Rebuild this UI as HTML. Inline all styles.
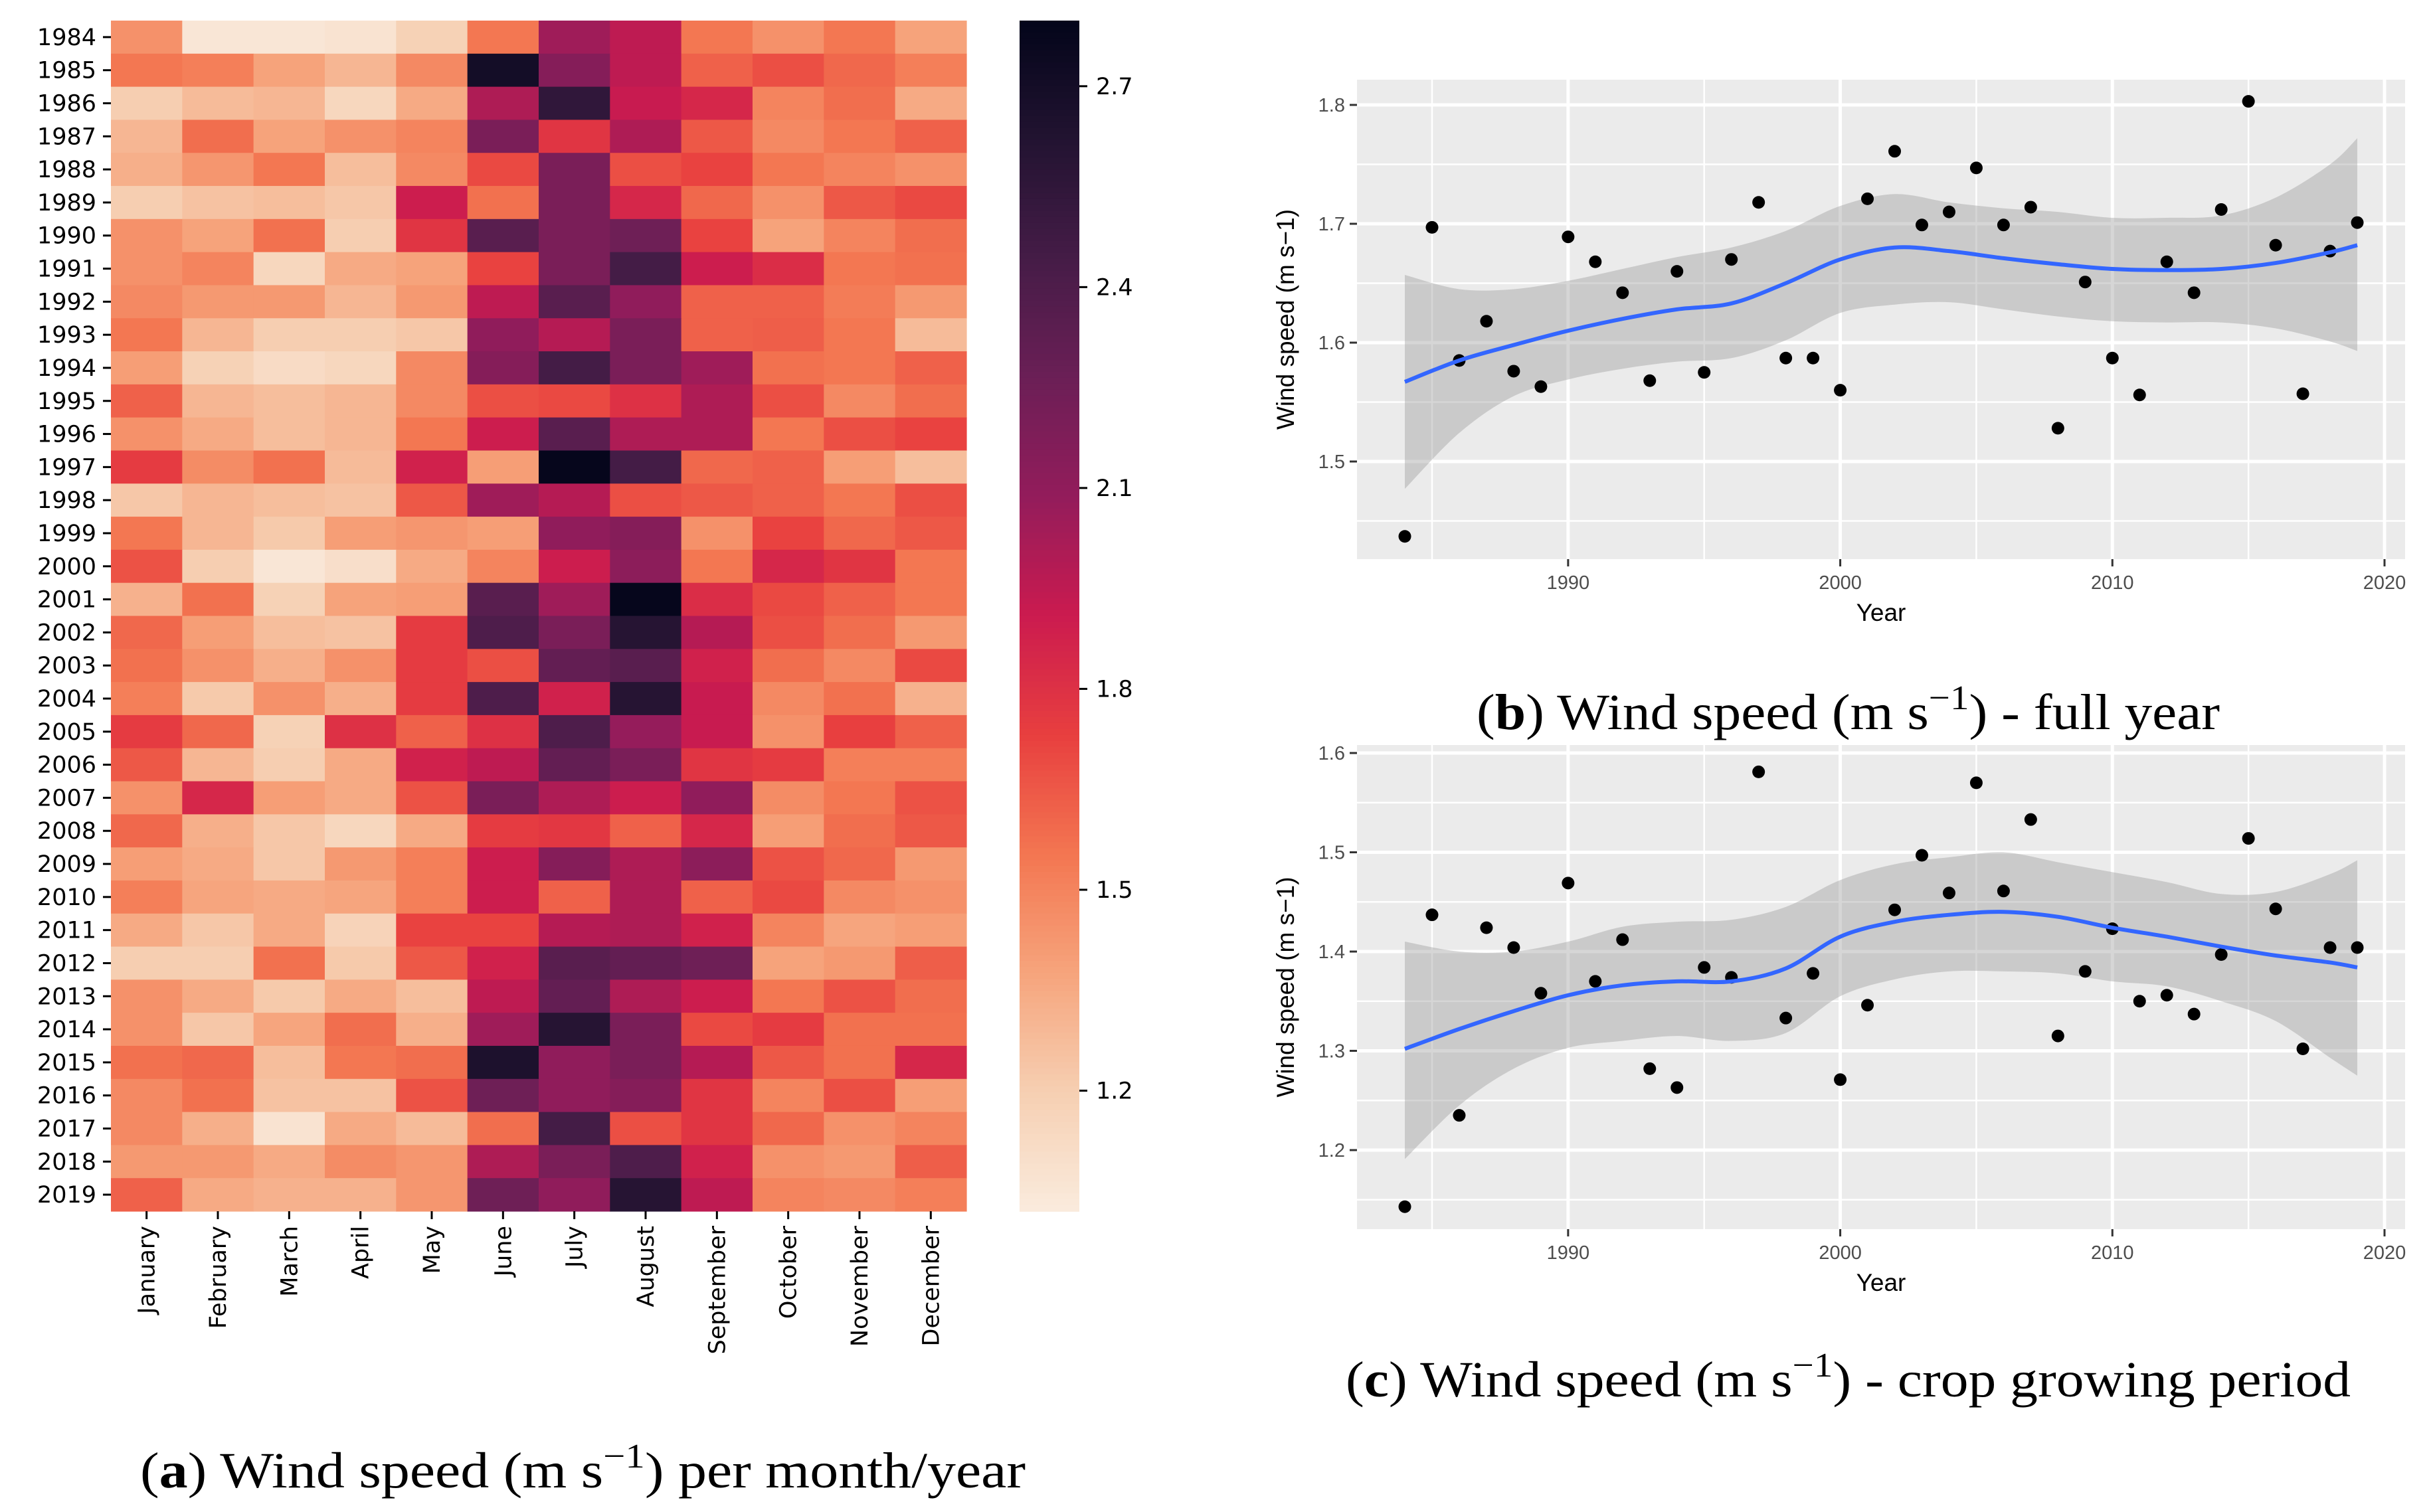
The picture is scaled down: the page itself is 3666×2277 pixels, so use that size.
<!DOCTYPE html>
<html><head><meta charset="utf-8"><style>
body{margin:0;background:#fff}
svg{display:block}
</style></head><body>
<svg id="fig" width="3666" height="2277" viewBox="0 0 3666 2277" xmlns="http://www.w3.org/2000/svg">
<g id="heat"></g>
<g id="cbar"></g>
<g id="pb"></g>
<g id="pc"></g>
<text x="211" y="2240" textLength="1333" lengthAdjust="spacingAndGlyphs" font-family="Liberation Serif, serif" font-size="76">(<tspan font-weight="bold">a</tspan>) Wind speed (m s<tspan dy="-30" font-size="52">−1</tspan><tspan dy="30">) per month/year</tspan></text>
<text x="2223" y="1098" textLength="1119" lengthAdjust="spacingAndGlyphs" font-family="Liberation Serif, serif" font-size="76">(<tspan font-weight="bold">b</tspan>) Wind speed (m s<tspan dy="-30" font-size="52">−1</tspan><tspan dy="30">) - full year</tspan></text>
<text x="2026" y="2103" textLength="1513" lengthAdjust="spacingAndGlyphs" font-family="Liberation Serif, serif" font-size="76">(<tspan font-weight="bold">c</tspan>) Wind speed (m s<tspan dy="-30" font-size="52">−1</tspan><tspan dy="30">) - crop growing period</tspan></text>
</svg>
<script>
const months=["January","February","March","April","May","June","July","August","September","October","November","December"];
const heatYears=[1984,1985,1986,1987,1988,1989,1990,1991,1992,1993,1994,1995,1996,1997,1998,1999,2000,2001,2002,2003,2004,2005,2006,2007,2008,2009,2010,2011,2012,2013,2014,2015,2016,2017,2018,2019];
const heatValues=[
[1.45,1.05,1.05,1.07,1.18,1.55,2.05,1.95,1.55,1.45,1.55,1.38],
[1.55,1.52,1.38,1.30,1.48,2.70,2.15,1.95,1.62,1.68,1.60,1.52],
[1.20,1.28,1.30,1.15,1.35,2.00,2.55,1.92,1.85,1.50,1.58,1.35],
[1.30,1.58,1.38,1.45,1.50,2.20,1.78,2.00,1.65,1.48,1.55,1.62],
[1.33,1.43,1.55,1.27,1.48,1.70,2.20,1.68,1.72,1.55,1.50,1.45],
[1.20,1.25,1.27,1.23,1.90,1.57,2.20,1.85,1.60,1.45,1.65,1.70],
[1.45,1.38,1.57,1.20,1.78,2.35,2.20,2.25,1.72,1.38,1.50,1.58],
[1.45,1.50,1.15,1.35,1.38,1.72,2.20,2.45,1.90,1.82,1.55,1.57],
[1.48,1.42,1.42,1.30,1.42,1.95,2.35,2.10,1.62,1.62,1.53,1.42],
[1.55,1.30,1.20,1.20,1.23,2.10,1.98,2.20,1.62,1.63,1.55,1.28],
[1.40,1.18,1.12,1.15,1.48,2.15,2.45,2.20,2.05,1.57,1.55,1.62],
[1.62,1.30,1.27,1.30,1.48,1.68,1.70,1.80,2.00,1.68,1.48,1.58],
[1.45,1.35,1.27,1.30,1.55,1.90,2.35,2.00,2.00,1.55,1.68,1.72],
[1.75,1.47,1.57,1.28,1.88,1.40,2.78,2.45,1.60,1.62,1.40,1.27],
[1.23,1.30,1.27,1.25,1.65,2.05,1.98,1.68,1.65,1.62,1.55,1.68],
[1.55,1.30,1.22,1.40,1.43,1.40,2.10,2.15,1.45,1.72,1.60,1.65],
[1.67,1.20,1.05,1.10,1.35,1.50,1.90,2.12,1.55,1.85,1.78,1.55],
[1.32,1.57,1.18,1.38,1.40,2.35,2.05,2.78,1.82,1.70,1.62,1.55],
[1.60,1.40,1.27,1.25,1.75,2.40,2.20,2.60,1.98,1.68,1.58,1.42],
[1.57,1.45,1.33,1.45,1.75,1.68,2.30,2.35,1.88,1.58,1.48,1.70],
[1.52,1.22,1.45,1.33,1.75,2.40,1.88,2.60,1.92,1.48,1.57,1.32],
[1.75,1.60,1.18,1.80,1.62,1.80,2.40,2.08,1.92,1.45,1.73,1.62],
[1.65,1.30,1.20,1.35,1.88,1.95,2.30,2.20,1.78,1.75,1.52,1.52],
[1.45,1.85,1.40,1.35,1.67,2.20,2.00,1.90,2.10,1.47,1.55,1.67],
[1.60,1.33,1.23,1.15,1.35,1.75,1.77,1.62,1.85,1.40,1.58,1.65],
[1.40,1.35,1.23,1.42,1.52,1.90,2.15,2.00,2.12,1.67,1.60,1.42],
[1.52,1.37,1.35,1.37,1.52,1.90,1.62,2.00,1.62,1.70,1.48,1.45],
[1.35,1.23,1.35,1.17,1.72,1.72,1.98,2.00,1.88,1.50,1.37,1.40],
[1.20,1.20,1.57,1.22,1.65,1.88,2.35,2.30,2.25,1.38,1.42,1.63],
[1.45,1.35,1.22,1.35,1.27,1.95,2.30,2.00,1.90,1.55,1.67,1.58],
[1.45,1.23,1.37,1.58,1.33,2.05,2.60,2.20,1.70,1.75,1.57,1.57],
[1.57,1.60,1.27,1.55,1.58,2.65,2.10,2.20,1.98,1.65,1.57,1.85],
[1.48,1.57,1.25,1.25,1.67,2.25,2.10,2.15,1.78,1.50,1.68,1.40],
[1.48,1.33,1.07,1.35,1.28,1.58,2.45,1.68,1.78,1.60,1.45,1.50],
[1.42,1.42,1.35,1.47,1.43,2.00,2.20,2.40,1.88,1.45,1.42,1.63],
[1.62,1.35,1.32,1.32,1.43,2.25,2.10,2.60,1.95,1.50,1.48,1.52]];
const cbarTicks=[1.2,1.5,1.8,2.1,2.4,2.7];

const years=[1984,1985,1986,1987,1988,1989,1990,1991,1992,1993,1994,1995,1996,1997,1998,1999,2000,2001,2002,2003,2004,2005,2006,2007,2008,2009,2010,2011,2012,2013,2014,2015,2016,2017,2018,2019];
const fullYear=[1.437,1.697,1.585,1.618,1.576,1.563,1.689,1.668,1.642,1.568,1.660,1.575,1.670,1.718,1.587,1.587,1.560,1.721,1.761,1.699,1.710,1.747,1.699,1.714,1.528,1.651,1.587,1.556,1.668,1.642,1.712,1.803,1.682,1.557,1.677,1.701];
const cropPeriod=[1.143,1.437,1.235,1.424,1.404,1.358,1.469,1.370,1.412,1.282,1.263,1.384,1.374,1.581,1.333,1.378,1.271,1.346,1.442,1.497,1.459,1.570,1.461,1.533,1.315,1.380,1.423,1.350,1.356,1.337,1.397,1.514,1.443,1.302,1.404,1.404];
const bandYears=[1984,1986,1988,1990,1992,1994,1996,1998,2000,2002,2004,2006,2008,2010,2012,2014,2016,2018,2019];
const fullSmooth=[1.567,1.585,1.598,1.610,1.620,1.628,1.633,1.650,1.670,1.680,1.677,1.671,1.666,1.662,1.661,1.662,1.667,1.676,1.682];
const fullUpper=[1.657,1.645,1.645,1.652,1.662,1.672,1.680,1.694,1.715,1.725,1.718,1.713,1.710,1.705,1.705,1.707,1.722,1.750,1.772];
const fullLower=[1.477,1.524,1.555,1.569,1.578,1.584,1.587,1.602,1.625,1.632,1.634,1.628,1.622,1.618,1.617,1.617,1.612,1.601,1.593];
const cropSmooth=[1.302,1.322,1.340,1.356,1.366,1.370,1.370,1.383,1.415,1.430,1.437,1.440,1.435,1.424,1.415,1.405,1.396,1.389,1.384];
const cropUpper=[1.410,1.400,1.400,1.410,1.425,1.430,1.432,1.445,1.472,1.488,1.495,1.500,1.490,1.480,1.470,1.458,1.460,1.478,1.492];
const cropLower=[1.191,1.245,1.282,1.303,1.310,1.315,1.310,1.318,1.355,1.372,1.380,1.380,1.378,1.370,1.365,1.350,1.330,1.293,1.275];
const fullTicks=[1.5,1.6,1.7,1.8];
const cropTicks=[1.2,1.3,1.4,1.5,1.6];
const xTicks=[1990,2000,2010,2020];

const NS="http://www.w3.org/2000/svg";
function mk(tag,attrs,parent){const e=document.createElementNS(NS,tag);for(const k in attrs)e.setAttribute(k,attrs[k]);parent.appendChild(e);return e;}
const stops=[[0,[3,5,26]],[0.1,[34,19,49]],[0.2,[69,28,71]],[0.3,[107,31,86]],[0.4,[147,28,91]],[0.5,[203,27,79]],[0.6,[232,63,63]],[0.7,[243,118,81]],[0.8,[246,164,124]],[0.9,[246,207,178]],[1,[250,235,221]]];
const VMIN=1.02,VMAX=2.798;
function color(v){let t=(VMAX-v)/(VMAX-VMIN);t=Math.max(0,Math.min(1,t));
for(let i=1;i<stops.length;i++){if(t<=stops[i][0]){const a=stops[i-1],b=stops[i];const f=(t-a[0])/(b[0]-a[0]);const c=a[1].map((x,j)=>Math.round(x+(b[1][j]-x)*f));return `rgb(${c[0]},${c[1]},${c[2]})`;}}return 'rgb(250,235,221)';}

const heat=document.getElementById('heat');
const HX=167,HY=31,HW=1288,HH=1793;
const cw=HW/months.length,rh=HH/heatYears.length;
heatValues.forEach((row,r)=>row.forEach((v,c)=>{
 const e=mk('rect',{x:HX+c*cw,y:HY+r*rh,width:cw+0.6,height:rh+0.6,fill:color(v)},heat);
 
 
}));
heatYears.forEach((y,r)=>{
 const cy=HY+(r+0.5)*rh;
 mk('line',{x1:HX-12,x2:HX,y1:cy,y2:cy,stroke:'#000','stroke-width':3},heat);
 const t=mk('text',{x:HX-22,y:cy+12,'text-anchor':'end','font-family':'DejaVu Sans, sans-serif','font-size':35},heat);
 t.textContent=y;
 
 
});
months.forEach((m,c)=>{
 const cx=HX+(c+0.5)*cw;
 mk('line',{x1:cx,x2:cx,y1:HY+HH,y2:HY+HH+12,stroke:'#000','stroke-width':3},heat);
 const t=mk('text',{x:0,y:0,'text-anchor':'end','font-family':'DejaVu Sans, sans-serif','font-size':35,transform:`translate(${cx+12},${HY+HH+22}) rotate(-90)`},heat);
 t.textContent=m;
 
 
});
const cb=document.getElementById('cbar');
const CX=1535,CW=90,CY=31,CH=1793;
const N=200;
for(let i=0;i<N;i++){const v=VMAX-(VMAX-VMIN)*(i+0.5)/N;
 mk('rect',{x:CX,y:CY+i*CH/N,width:CW,height:CH/N+0.8,fill:color(v)},cb);}
function cbY(v){return CY+(VMAX-v)/(VMAX-VMIN)*CH;}
cbarTicks.forEach(v=>{const y=cbY(v);
 mk('line',{x1:CX+CW,x2:CX+CW+12,y1:y,y2:y,stroke:'#000','stroke-width':3},cb);
 const t=mk('text',{x:CX+CW+25,y:y+12,'font-family':'DejaVu Sans, sans-serif','font-size':35},cb);
 t.textContent=v.toFixed(1);
 
 
});

function smoothPath(pts){let d=`M${pts[0][0]},${pts[0][1]}`;
 for(let i=0;i<pts.length-1;i++){const p0=pts[Math.max(0,i-1)],p1=pts[i],p2=pts[i+1],p3=pts[Math.min(pts.length-1,i+2)];
 d+=` C${p1[0]+(p2[0]-p0[0])/6},${p1[1]+(p2[1]-p0[1])/6} ${p2[0]-(p3[0]-p1[0])/6},${p2[1]-(p3[1]-p1[1])/6} ${p2[0]},${p2[1]}`;}return d;}

function panel(g,top,bottom,yRef,vRef,pxPer,ticks,pts,sm,up,lo){
 const L=2043,R=3621;
 const xs=yr=>2156+(yr-1985)*(3590-2156)/35;
 const ys=v=>yRef+(vRef-v)*pxPer;
 mk('rect',{x:L,y:top,width:R-L,height:bottom-top,fill:'#EBEBEB'},g);
 for(let i=0;i<ticks.length+1;i++){const v=ticks[0]-0.05+i*0.1;const y=ys(v);if(y>top&&y<bottom)mk('line',{x1:L,x2:R,y1:y,y2:y,stroke:'#fff','stroke-width':2.5},g);}
 [1985,1995,2005,2015].forEach(yr=>mk('line',{x1:xs(yr),x2:xs(yr),y1:top,y2:bottom,stroke:'#fff','stroke-width':2.5},g));
 ticks.forEach(v=>mk('line',{x1:L,x2:R,y1:ys(v),y2:ys(v),stroke:'#fff','stroke-width':5},g));
 xTicks.forEach(yr=>mk('line',{x1:xs(yr),x2:xs(yr),y1:top,y2:bottom,stroke:'#fff','stroke-width':5},g));
 const upP=bandYears.map((y,i)=>[xs(y),ys(up[i])]);
 const loP=bandYears.map((y,i)=>[xs(y),ys(lo[i])]).reverse();
 let d=smoothPath(upP);d+=' L'+smoothPath(loP).slice(1)+' Z';
 const band=mk('path',{d:d,fill:'#999999','fill-opacity':0.4},g);
 
 
 pts.forEach((v,i)=>{const c=mk('circle',{cx:xs(years[i]),cy:ys(v),r:9.5,fill:'#000'},g);
  
  });
 const ln=mk('path',{d:smoothPath(bandYears.map((y,i)=>[xs(y),ys(sm[i])])),fill:'none',stroke:'#3366FF','stroke-width':6},g);
 
 
 ticks.forEach(v=>{const y=ys(v);
  mk('line',{x1:L-11,x2:L,y1:y,y2:y,stroke:'#333','stroke-width':3},g);
  const t=mk('text',{x:L-18,y:y+10,'text-anchor':'end','font-family':'Liberation Sans, sans-serif','font-size':29,fill:'#4D4D4D'},g);
  t.textContent=v.toFixed(1);
  
  });
 xTicks.forEach(yr=>{const x=xs(yr);
  mk('line',{x1:x,x2:x,y1:bottom,y2:bottom+11,stroke:'#333','stroke-width':3},g);
  const t=mk('text',{x:x,y:bottom+45,'text-anchor':'middle','font-family':'Liberation Sans, sans-serif','font-size':29,fill:'#4D4D4D'},g);
  t.textContent=yr;
  
  });
 const xt=mk('text',{x:2832,y:bottom+93,'text-anchor':'middle','font-family':'Liberation Sans, sans-serif','font-size':37},g);
 xt.textContent='Year';
 
 
 const yt=mk('text',{x:0,y:0,'text-anchor':'middle','font-family':'Liberation Sans, sans-serif','font-size':37,transform:`translate(1948,${(top+bottom)/2}) rotate(-90)`},g);
 yt.textContent='Wind speed (m s−1)';
 
 
}
panel(document.getElementById('pb'),120,842,158,1.8,1790,fullTicks,fullYear,fullSmooth,fullUpper,fullLower);
panel(document.getElementById('pc'),1122,1851,1134,1.6,1495,cropTicks,cropPeriod,cropSmooth,cropUpper,cropLower);
</script>
</body></html>
